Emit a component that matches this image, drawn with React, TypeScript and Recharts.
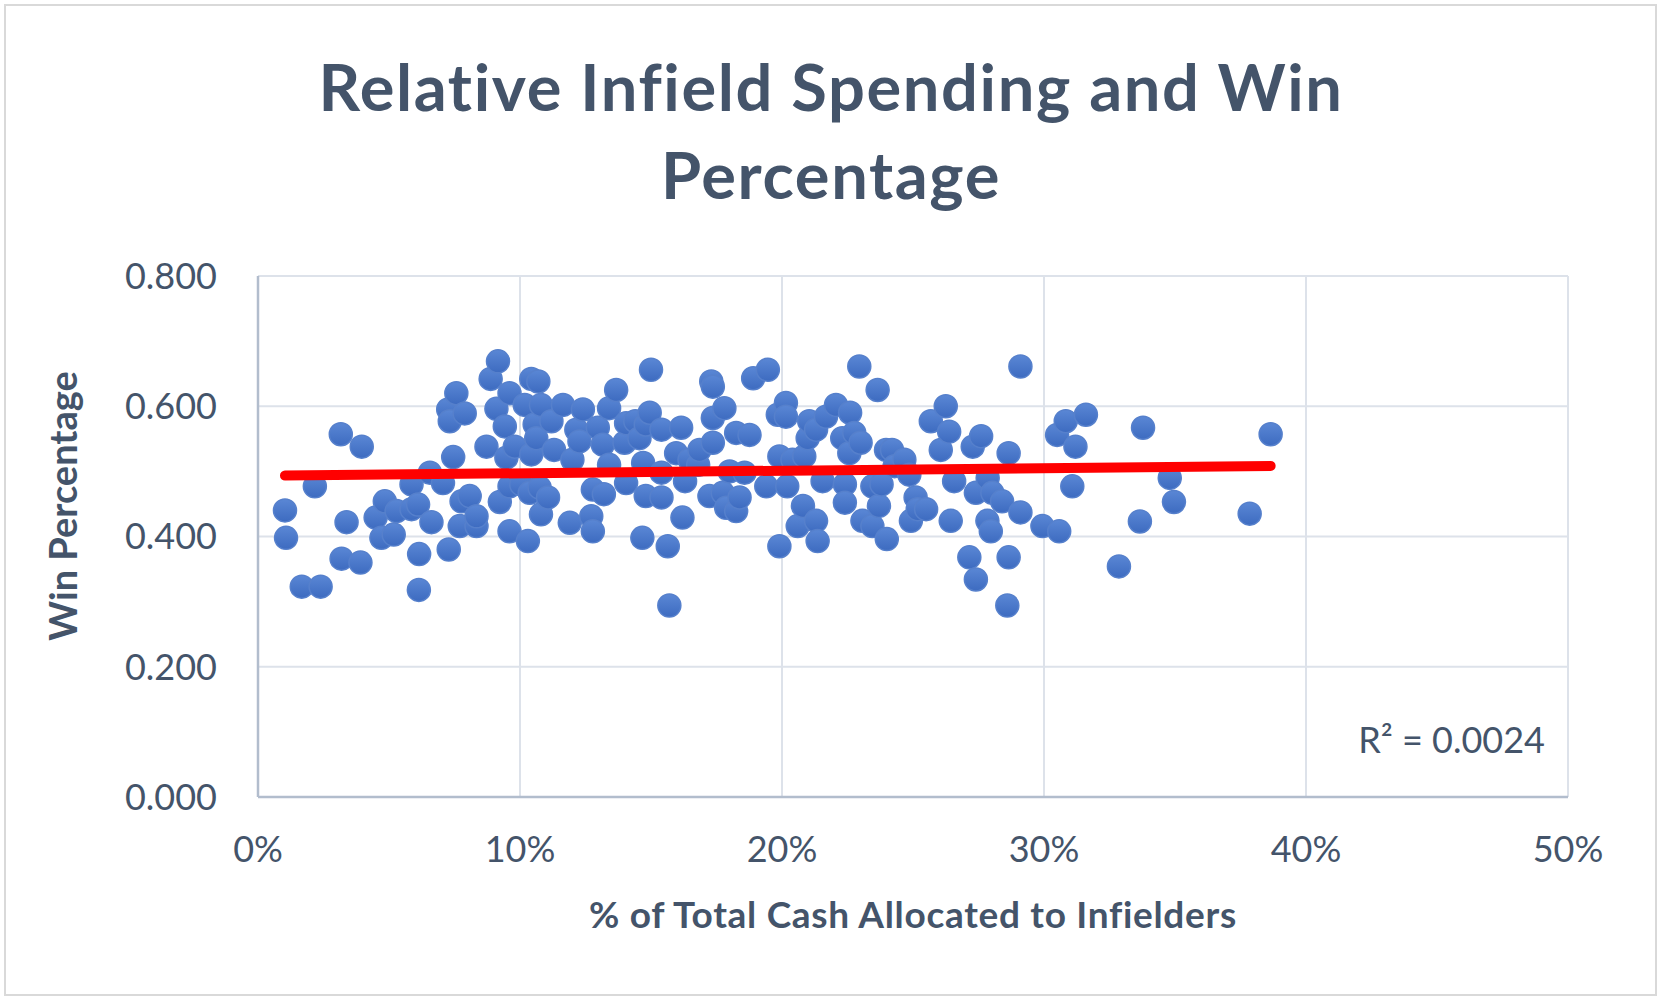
import React from 'react';
import {
  ScatterChart, Scatter, XAxis, YAxis, CartesianGrid,
} from 'recharts';

// % of total cash going to infielders (x) and that team's win percentage (y)
const cashShare = [
  1.03, 1.07, 1.67, 2.17, 2.39, 3.16, 3.19, 3.38, 3.91, 3.96, 4.49, 4.71,
  4.84, 5.18, 5.29, 5.86, 5.86, 6.11, 6.14, 6.15, 6.56, 6.62, 7.06, 7.26,
  7.28, 7.32, 7.45, 7.57, 7.70, 7.77, 7.89, 8.08, 8.34, 8.34, 8.72, 8.88,
  9.10, 9.16, 9.23, 9.42, 9.48, 9.60, 9.60, 9.60, 9.80, 10.05, 10.18, 10.30,
  10.37, 10.43, 10.43, 10.56, 10.62, 10.70, 10.75, 10.80, 10.80, 11.07, 11.20, 11.30,
  11.64, 11.90, 12.00, 12.15, 12.27, 12.40, 12.72, 12.78, 12.78, 12.97, 13.16, 13.20,
  13.40, 13.40, 13.67, 13.99, 14.05, 14.05, 14.40, 14.56, 14.67, 14.70, 14.80, 14.80,
  14.95, 15.00, 15.40, 15.40, 15.40, 15.64, 15.70, 15.96, 16.15, 16.20, 16.30, 16.47,
  16.80, 16.85, 17.23, 17.30, 17.36, 17.36, 17.36, 17.74, 17.80, 17.87, 18.00, 18.25,
  18.25, 18.38, 18.57, 18.76, 18.90, 19.40, 19.46, 19.84, 19.90, 19.90, 20.15, 20.15,
  20.20, 20.40, 20.60, 20.80, 20.85, 20.98, 21.04, 21.30, 21.30, 21.36, 21.55, 21.68,
  22.06, 22.30, 22.40, 22.40, 22.57, 22.60, 22.76, 22.95, 23.00, 23.07, 23.45, 23.45,
  23.65, 23.70, 23.80, 23.97, 24.00, 24.20, 24.30, 24.67, 24.86, 24.92, 25.10, 25.18,
  25.50, 25.68, 26.06, 26.25, 26.38, 26.44, 26.57, 27.15, 27.28, 27.40, 27.40, 27.60,
  27.84, 27.85, 27.97, 28.03, 28.40, 28.60, 28.65, 28.65, 29.10, 29.10, 29.94, 30.50,
  30.58, 30.83, 31.08, 31.20, 31.60, 32.86, 33.66, 33.78, 34.80, 34.96, 37.85, 38.65,
];

const winPct = [
  0.440, 0.398, 0.323, 0.477, 0.323, 0.557, 0.366, 0.422, 0.360, 0.538, 0.429, 0.398,
  0.454, 0.403, 0.439, 0.442, 0.480, 0.449, 0.318, 0.373, 0.498, 0.422, 0.482, 0.595,
  0.380, 0.577, 0.522, 0.620, 0.416, 0.454, 0.589, 0.462, 0.416, 0.431, 0.538, 0.642,
  0.596, 0.669, 0.453, 0.569, 0.521, 0.620, 0.408, 0.477, 0.538, 0.480, 0.602, 0.393,
  0.467, 0.642, 0.526, 0.572, 0.551, 0.638, 0.475, 0.602, 0.434, 0.460, 0.577, 0.533,
  0.602, 0.421, 0.518, 0.564, 0.546, 0.595, 0.431, 0.472, 0.408, 0.567, 0.541, 0.465,
  0.597, 0.510, 0.625, 0.544, 0.574, 0.482, 0.577, 0.551, 0.398, 0.513, 0.572, 0.462,
  0.590, 0.656, 0.564, 0.498, 0.460, 0.385, 0.294, 0.528, 0.567, 0.429, 0.485, 0.518,
  0.510, 0.533, 0.462, 0.638, 0.630, 0.582, 0.544, 0.467, 0.597, 0.444, 0.500, 0.559,
  0.439, 0.460, 0.498, 0.556, 0.643, 0.477, 0.656, 0.587, 0.523, 0.385, 0.605, 0.584,
  0.477, 0.518, 0.416, 0.447, 0.523, 0.551, 0.577, 0.564, 0.424, 0.393, 0.485, 0.584,
  0.602, 0.551, 0.480, 0.452, 0.528, 0.590, 0.559, 0.661, 0.544, 0.424, 0.477, 0.416,
  0.625, 0.447, 0.480, 0.533, 0.396, 0.533, 0.508, 0.518, 0.495, 0.424, 0.460, 0.442,
  0.442, 0.577, 0.533, 0.600, 0.561, 0.424, 0.485, 0.368, 0.538, 0.467, 0.334, 0.554,
  0.424, 0.490, 0.408, 0.467, 0.454, 0.294, 0.528, 0.368, 0.661, 0.437, 0.416, 0.556,
  0.408, 0.577, 0.477, 0.538, 0.587, 0.354, 0.423, 0.567, 0.490, 0.453, 0.435, 0.557,
];

const xTicks = [0, 10, 20, 30, 40, 50];
const yTicks = [0, 0.2, 0.4, 0.6, 0.8];
const rSquaredLabel = 'R² = 0.0024';

const points = cashShare.map((x, i) => ({ x, y: winPct[i] }));

// least squares trendline over the data range, like Excel's linear trendline
const fitLine = (pts: { x: number; y: number }[]) => {
  const n = pts.length;
  const mx = pts.reduce((s, p) => s + p.x, 0) / n;
  const my = pts.reduce((s, p) => s + p.y, 0) / n;
  let sxy = 0;
  let sxx = 0;
  pts.forEach((p) => {
    sxy += (p.x - mx) * (p.y - my);
    sxx += (p.x - mx) * (p.x - mx);
  });
  const slope = sxy / sxx;
  const xs = pts.map((p) => p.x);
  const lo = Math.min(...xs);
  const hi = Math.max(...xs);
  return [lo, hi].map((x) => ({ x, y: my + slope * (x - mx) }));
};
const trend = fitLine(points);

const TEXT = '#44546A';
const FONT = 'Lato, "Open Sans", sans-serif';

const Dot = (props: any) => {
  const { cx, cy } = props;
  if (cx == null || cy == null) return null;
  return (
    <circle cx={cx} cy={cy} r={11.5} fill="url(#dotFill)" stroke="#5680CC" strokeWidth={1.5} />
  );
};

const NoDot = () => <g />;

export default function App() {
  return (
    <div style={{ position: 'absolute', left: 0, top: 0, width: 1663, height: 1003, background: '#fff' }}>
      <div
        style={{
          position: 'absolute', left: 4, top: 4, width: 1649, height: 988,
          border: '2px solid #D9D9D9', boxSizing: 'content-box',
        }}
      />
      <ScatterChart
        width={1663}
        height={1003}
        margin={{ top: 276, right: 95, bottom: 0, left: 0 }}
        style={{ position: 'absolute', left: 0, top: 0 }}
      >
        <defs>
          <linearGradient id="dotFill" x1="0" y1="0" x2="0" y2="1">
            <stop offset="0%" stopColor="#5A87D5" />
            <stop offset="100%" stopColor="#3D6BC0" />
          </linearGradient>
        </defs>
        <CartesianGrid stroke="#DDE2EA" strokeWidth={2} />
        <XAxis
          type="number"
          dataKey="x"
          domain={[0, 50]}
          ticks={xTicks}
          tickFormatter={(v: number) => `${v}%`}
          axisLine={{ stroke: '#B2BDCD', strokeWidth: 2.5 }}
          tickLine={false}
          tickSize={0}
          tickMargin={39}
          height={206}
          tick={{ fill: TEXT, fontSize: 36, fontFamily: FONT }}
        />
        <YAxis
          type="number"
          dataKey="y"
          domain={[0, 0.8]}
          ticks={yTicks}
          tickFormatter={(v: number) => v.toFixed(3)}
          axisLine={{ stroke: '#B2BDCD', strokeWidth: 2.5 }}
          tickLine={false}
          tickSize={0}
          tickMargin={41}
          width={258}
          tick={{ fill: TEXT, fontSize: 36, fontFamily: FONT }}
        />
        <Scatter data={points} shape={<Dot />} isAnimationActive={false} />
        <Scatter
          data={trend}
          shape={<NoDot />}
          line={{ stroke: '#FF0000', strokeWidth: 10, strokeLinecap: 'round' }}
          isAnimationActive={false}
        />
      </ScatterChart>
      <svg
        width={1663}
        height={1003}
        style={{ position: 'absolute', left: 0, top: 0, pointerEvents: 'none' }}
      >
        <g fill={TEXT} fontFamily={FONT}>
          <text x={831} y={111} textAnchor="middle" fontSize={65} fontWeight={700} letterSpacing={1.6}>
            Relative Infield Spending and Win
          </text>
          <text x={831} y={199} textAnchor="middle" fontSize={65} fontWeight={700} letterSpacing={1.6}>
            Percentage
          </text>
          <text x={913} y={928} textAnchor="middle" fontSize={37} fontWeight={700} letterSpacing={0.7}>
            % of Total Cash Allocated to Infielders
          </text>
          <text transform="translate(77,506) rotate(-90)" textAnchor="middle" fontSize={38} fontWeight={700}>
            Win Percentage
          </text>
          <text x={1545} y={753} textAnchor="end" fontSize={36}>
            {rSquaredLabel}
          </text>
        </g>
      </svg>
    </div>
  );
}
